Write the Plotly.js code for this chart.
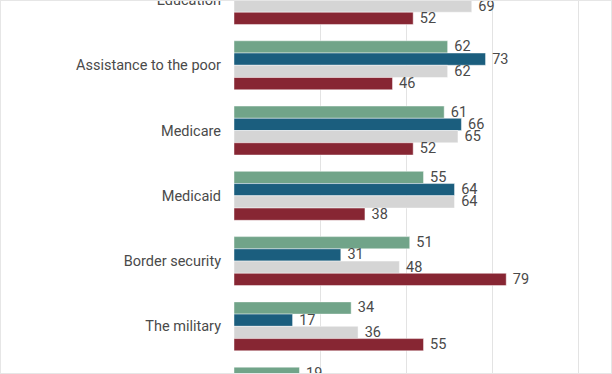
<!DOCTYPE html>
<html>
<head>
<meta charset="utf-8">
<script src="https://cdn.plot.ly/plotly-3.0.1.min.js"></script>
<style>
html,body{margin:0;padding:0;background:#fff;}
#wrap{position:relative;width:612px;height:374px;}
#chart{width:612px;height:374px;}
#frame{position:absolute;left:0;top:0;width:610px;height:372px;border:1px solid #e6e6e6;pointer-events:none;}
</style>
</head>
<body>
<div id="wrap"><div id="chart"></div><div id="frame"></div></div>
<script>
const categories = ["Education", "Assistance to the poor", "Medicare", "Medicaid", "Border security", "The military", "(next item)"];
const seriesNames = ["Total", "Democrats", "Independents", "Republicans"];
const greenVals = [null, 62, 61, 55, 51, 34, 19];
const blueVals  = [null, 73, 66, 64, 31, 17, null];
const greyVals  = [69, 62, 65, 64, 48, 36, null];
const redVals   = [52, 46, 52, 38, 79, 55, null];
const colors = ["#71a489", "#1b5e7e", "#d5d5d5", "#872633"];

const allVals = [greenVals, blueVals, greyVals, redVals];
const traces = allVals.map((vals, i) => ({
  type: "bar",
  orientation: "h",
  name: seriesNames[i],
  y: categories,
  x: vals,
  marker: {color: colors[i], line: {color: "rgba(255,255,255,0.45)", width: 1}},
  text: vals.map(v => v === null ? "" : "\u00a0" + v),
  textposition: "outside",
  constraintext: "none",
  cliponaxis: false,
  textfont: {family: "Roboto", size: 14.5, color: "#4a4a4a"},
  hoverinfo: "skip"
}));

const layout = {
  width: 612, height: 374,
  margin: {l: 234, r: 0, t: 0, b: 0, pad: 0},
  paper_bgcolor: "#fff", plot_bgcolor: "#fff",
  barmode: "group", bargap: 0.25, bargroupgap: 0,
  showlegend: false,
  font: {family: "Roboto", size: 14.5, color: "#4a4a4a"},
  xaxis: {range: [0, 109.7], tickvals: [0, 25, 50, 75, 100], showticklabels: false,
          showgrid: true, gridcolor: "#e3e3e3", gridwidth: 1, zeroline: false, showline: false, fixedrange: true},
  yaxis: {type: "category", range: [5.73, 0], showgrid: false, zeroline: false, showline: false,
          ticks: "", ticklabelstandoff: 12, tickfont: {family: "Roboto", size: 14.5, color: "#4a4a4a"}, fixedrange: true}
};

Plotly.newPlot("chart", traces, layout, {displayModeBar: false, staticPlot: true});
</script>
</body>
</html>
